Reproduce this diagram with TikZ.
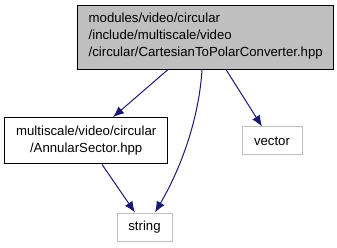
\documentclass[tikz,border=0pt]{standalone}
\usepackage{fontspec}
\setmainfont{Liberation Sans}
\usetikzlibrary{arrows.meta}
\definecolor{edgeblue}{HTML}{191970}
\definecolor{boxgray}{HTML}{BFBFBF}
\begin{document}
\begin{tikzpicture}[x=1pt,y=-1pt,
  every node/.style={font=\fontsize{13.2}{17.3}\selectfont, inner sep=0pt},
  mainbox/.style={draw=black, fill=boxgray, line width=1pt},
  filebox/.style={draw=black, fill=white, line width=1pt},
  sysbox/.style={draw=boxgray, fill=white, line width=1pt},
  dep/.style={draw=edgeblue, line width=1pt, -{Latex[length=11pt,width=9pt]}}]
\useasboundingbox (0,0) rectangle (337,248);
% header being documented
\node[mainbox, minimum width=255.5pt, minimum height=63.5pt] (top) at (205.5,37.3) {};
\node[anchor=west, align=left] (toptext) at (88.5,36)
  {modules/video/circular\\/include/multiscale/video\\/circular/CartesianToPolarConverter.hpp};
% included headers
\node[filebox, minimum width=163pt, minimum height=46.3pt, align=center] (ann) at (86.2,140.8)
  {multiscale/video/circular\\/AnnularSector.hpp};
\node[sysbox, minimum width=55pt, minimum height=28pt] (str) at (144.5,227) {string};
\node[sysbox, minimum width=60pt, minimum height=28pt] (vec) at (272,141) {vector};
% include relations
\draw[dep] (top.south -| 168,0) -- (ann.north -| 113,0);
\draw[dep] (top.south -| 202,0) .. controls (199,120) and (180,170) .. (str.north -| 155,0);
\draw[dep] (top.south -| 226,0) -- (vec.north -| 262,0);
\draw[dep] (ann.south -| 102,0) -- (str.north -| 135,0);
\end{tikzpicture}
\end{document}
